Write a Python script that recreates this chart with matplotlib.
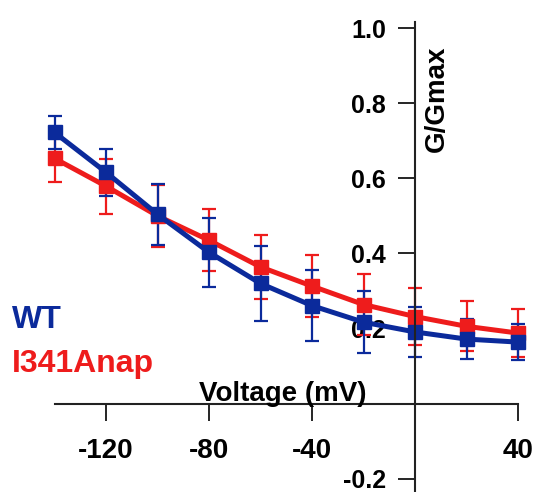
import numpy as np
import matplotlib
matplotlib.use('Agg')
import matplotlib.pyplot as plt

plt.rcParams['font.family'] = ['Liberation Sans', 'DejaVu Sans']
plt.rcParams['font.weight'] = 'bold'
plt.rcParams['axes.unicode_minus'] = False

# data
voltage_mV = [-140, -120, -100, -80, -60, -40, -20, 0, 20, 40]
wt_g = [0.722, 0.616, 0.504, 0.403, 0.320, 0.261, 0.217, 0.191, 0.172, 0.164]
wt_err = [0.043, 0.063, 0.082, 0.092, 0.100, 0.094, 0.082, 0.066, 0.053, 0.047]
mut_g = [0.653, 0.579, 0.500, 0.435, 0.364, 0.313, 0.264, 0.232, 0.206, 0.188]
mut_err = [0.064, 0.073, 0.082, 0.082, 0.085, 0.082, 0.082, 0.075, 0.067, 0.064]

x_ticks = [-120, -80, -40, 40]
y_ticks = [-0.2, 0.2, 0.4, 0.6, 0.8, 1.0]

blue = '#0b2a9b'
red = '#ee1c1c'

fig = plt.figure(figsize=(5.39, 4.92), dpi=100)
ax = fig.add_axes([54.5 / 539, 0.0, 463.5 / 539, 470 / 492])

for g, err, col in [(mut_g, mut_err, red), (wt_g, wt_err, blue)]:
    cont = ax.errorbar(voltage_mV, g, yerr=err, color=col, marker='s', markersize=10,
                       linewidth=3.6, elinewidth=1.6, capsize=5, capthick=1.6)
    for art in cont.get_children():
        art.set_clip_on(False)

ax.set_xlim(-140, 40)
ax.set_ylim(-0.235, 1.016)

ax.spines['left'].set_position(('data', 0))
ax.spines['bottom'].set_position(('data', 0))
ax.spines['top'].set_visible(False)
ax.spines['right'].set_visible(False)
for s in ['left', 'bottom']:
    ax.spines[s].set_linewidth(1.5)
    ax.spines[s].set_color('#222222')

ax.set_xticks(x_ticks)
ax.set_xticklabels([str(v) for v in x_ticks])
ax.set_yticks(y_ticks)
ax.set_yticklabels(['%.1f' % v for v in y_ticks])
ax.tick_params(axis='x', direction='out', length=12, width=1.2, pad=13, labelsize=20)
ax.tick_params(axis='y', direction='out', length=12, width=1.2, pad=9, labelsize=18)
ax.patch.set_alpha(0)

fig.text(199 / 539, (492 - 401) / 492, 'Voltage (mV)', fontsize=20, fontweight='bold',
         ha='left', va='baseline')
fig.text(437 / 539, (492 - 99) / 492, 'G/Gmax', fontsize=20, fontweight='bold',
         rotation=90, ha='center', va='center')
fig.text(12 / 539, (492 - 328) / 492, 'WT', fontsize=23, fontweight='bold',
         color=blue, ha='left', va='baseline')
fig.text(12 / 539, (492 - 372) / 492, 'I341Anap', fontsize=23, fontweight='bold',
         color=red, ha='left', va='baseline')

fig.savefig('out.png', dpi=100)
